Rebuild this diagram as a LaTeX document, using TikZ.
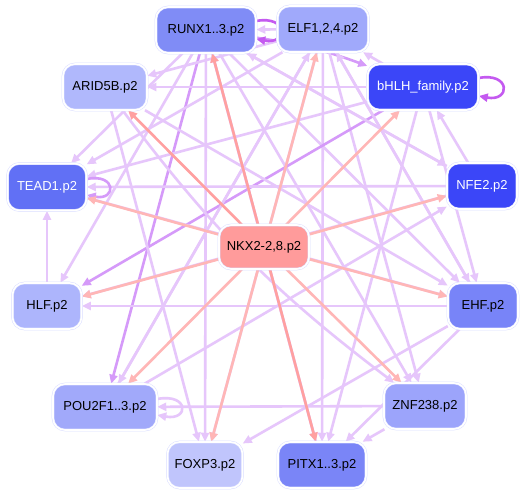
\documentclass[tikz,border=0pt]{standalone}
\usepackage{fontspec}
\setmainfont{Liberation Sans}
\usetikzlibrary{arrows.meta}
\pgfdeclarelayer{bg}
\pgfsetlayers{bg,main}
\definecolor{ndline}{HTML}{DADEFF}
\definecolor{cRUNX}{HTML}{808CF6}
\definecolor{cELF}{HTML}{A0A9FB}
\definecolor{cARID}{HTML}{B0B8FC}
\definecolor{cBHLH}{HTML}{3B46F8}
\definecolor{cTEAD}{HTML}{6170F5}
\definecolor{cNKX}{HTML}{FF9B9B}
\definecolor{cHLF}{HTML}{ADB5FC}
\definecolor{cEHF}{HTML}{7884F8}
\definecolor{cPOU}{HTML}{A1A9FA}
\definecolor{cZNF}{HTML}{9CA4FB}
\definecolor{cFOX}{HTML}{C0C5FC}
\definecolor{cPITX}{HTML}{7A85F7}
\definecolor{elav}{HTML}{E6C6FB}
\definecolor{epur}{HTML}{D59AF9}
\definecolor{espur}{HTML}{C45AF0}
\definecolor{esal}{HTML}{FFB6B6}
\definecolor{esaltwo}{HTML}{FFA0A0}
\begin{document}
\begin{tikzpicture}[x=1pt,y=-1pt,
  font=\fontsize{13}{15}\selectfont,
  nd/.style={rounded corners=12pt, minimum height=46pt, inner sep=0pt,
    draw=ndline, line width=0.5pt, double=white, double distance=1.6pt},
  ed/.style={line width=2.6pt, -{Triangle[length=9pt,width=8pt]}},
  lav/.style={ed, draw=elav},
  pur/.style={ed, draw=epur},
  spur/.style={ed, draw=espur},
  sal/.style={ed, draw=esal},
  saltwo/.style={ed, draw=esaltwo}]
\useasboundingbox (0,0) rectangle (525,495);

\node[nd, fill=cRUNX, minimum width=100pt] (runx) at (206,30) {RUNX1..3.p2};
\node[nd, fill=cELF, minimum width=91pt] (elf) at (323,29) {ELF1,2,4.p2};
\node[nd, fill=cARID, minimum width=84pt] (arid) at (105,87) {ARID5B.p2};
\node[nd, fill=cBHLH, text=white, minimum width=111pt] (bhlh) at (423,87) {bHLH\_family.p2};
\node[nd, fill=cTEAD, text=white, minimum width=79pt, minimum height=47pt] (tead) at (47,187) {TEAD1.p2};
\node[nd, fill=cBHLH, text=white, minimum width=70pt] (nfe2) at (482,186) {NFE2.p2};
\node[nd, fill=cNKX, minimum width=90pt, minimum height=44pt] (nkx) at (264,247) {NKX2-2,8.p2};
\node[nd, fill=cHLF, minimum width=69pt] (hlf) at (47,306) {HLF.p2};
\node[nd, fill=cEHF, minimum width=70pt] (ehf) at (483,306) {EHF.p2};
\node[nd, fill=cPOU, minimum width=104pt] (pou) at (105,407) {POU2F1..3.p2};
\node[nd, fill=cZNF, minimum width=82pt] (znf) at (425,406) {ZNF238.p2};
\node[nd, fill=cFOX, minimum width=75pt] (foxp) at (205,465) {FOXP3.p2};
\node[nd, fill=cPITX, minimum width=88pt] (pitx) at (322,465) {PITX1..3.p2};

\begin{pgfonlayer}{bg}
\fill[white] (0,0) rectangle (525,495);
% lavender web
\draw[lav] (runx) -- (tead);
\draw[lav] (runx) -- (hlf);
\draw[pur] (runx) -- (pou);
\draw[lav] (runx) -- (foxp);
\draw[lav] (runx) -- (pitx);
\draw[lav] (runx) -- (ehf);
\draw[lav] (runx) -- (znf);
\draw[lav] (runx) -- (nfe2);
\draw[pur] (runx) to[bend left=6] (bhlh);
\draw[lav] (elf) -- (runx);
\draw[lav] (elf) -- (arid);
\draw[lav] (elf) -- (tead);
\draw[lav] (elf) -- (pou);
\draw[lav] (elf) -- (pitx);
\draw[lav] (elf) -- (znf);
\draw[lav] (elf) -- (ehf);
\draw[lav] (elf) -- (foxp);
\draw[lav] (bhlh) -- (arid);
\draw[lav] (bhlh) -- (tead);
\draw[pur] (bhlh) -- (hlf);
\draw[lav] (bhlh) -- (pitx);
\draw[lav] (bhlh) -- (ehf);
\draw[lav] (bhlh) -- (elf);
\draw[lav] (nfe2) -- (bhlh);
\draw[lav] (nfe2) -- (hlf);
\draw[lav] (nfe2) -- (tead);
\draw[lav] (nfe2) -- (runx);
\draw[lav] (ehf) -- (hlf);
\draw[lav] (ehf) -- (foxp);
\draw[lav] (ehf) -- (pitx);
\draw[lav] (ehf) -- (elf);
\draw[lav] (znf) -- (pitx);
\draw[lav] (znf) -- (pou);
\draw[lav] (hlf) -- (tead);
\draw[lav] (arid) -- (ehf);
\draw[lav] (arid) to[bend right=8] (znf);
\draw[lav] (arid) -- (foxp);
\draw[lav] (pou) -- (nfe2);
\draw[lav] (pou) -- (elf);
\draw[lav] (pitx) -- (runx);
\draw[lav] (tead) -- (ehf);
% self loops
\draw[spur] ([yshift=9pt]runx.east) .. controls +(32,-6) and +(32,6) .. ([yshift=-9pt]runx.east);
\draw[spur] ([yshift=9pt]bhlh.east) .. controls +(32,-6) and +(32,6) .. ([yshift=-9pt]bhlh.east);
\draw[pur] ([yshift=8pt]tead.east) .. controls +(30,-6) and +(30,6) .. ([yshift=-8pt]tead.east);
\draw[lav] ([yshift=8pt]pou.east) .. controls +(32,-6) and +(32,6) .. ([yshift=-8pt]pou.east);
% salmon from NKX
\draw[saltwo] (nkx) -- (arid);
\draw[saltwo] (nkx) -- (runx);
\draw[sal] (nkx) -- (elf);
\draw[sal] (nkx) -- (bhlh);
\draw[sal] (nkx) -- (tead);
\draw[sal] (nkx) -- (nfe2);
\draw[sal] (nkx) -- (hlf);
\draw[sal] (nkx) -- (ehf);
\draw[sal] (nkx) -- (pou);
\draw[sal] (nkx) -- (foxp);
\draw[saltwo] (nkx) -- (pitx);
\draw[sal] (nkx) -- (znf);
\end{pgfonlayer}
\end{tikzpicture}
\end{document}
